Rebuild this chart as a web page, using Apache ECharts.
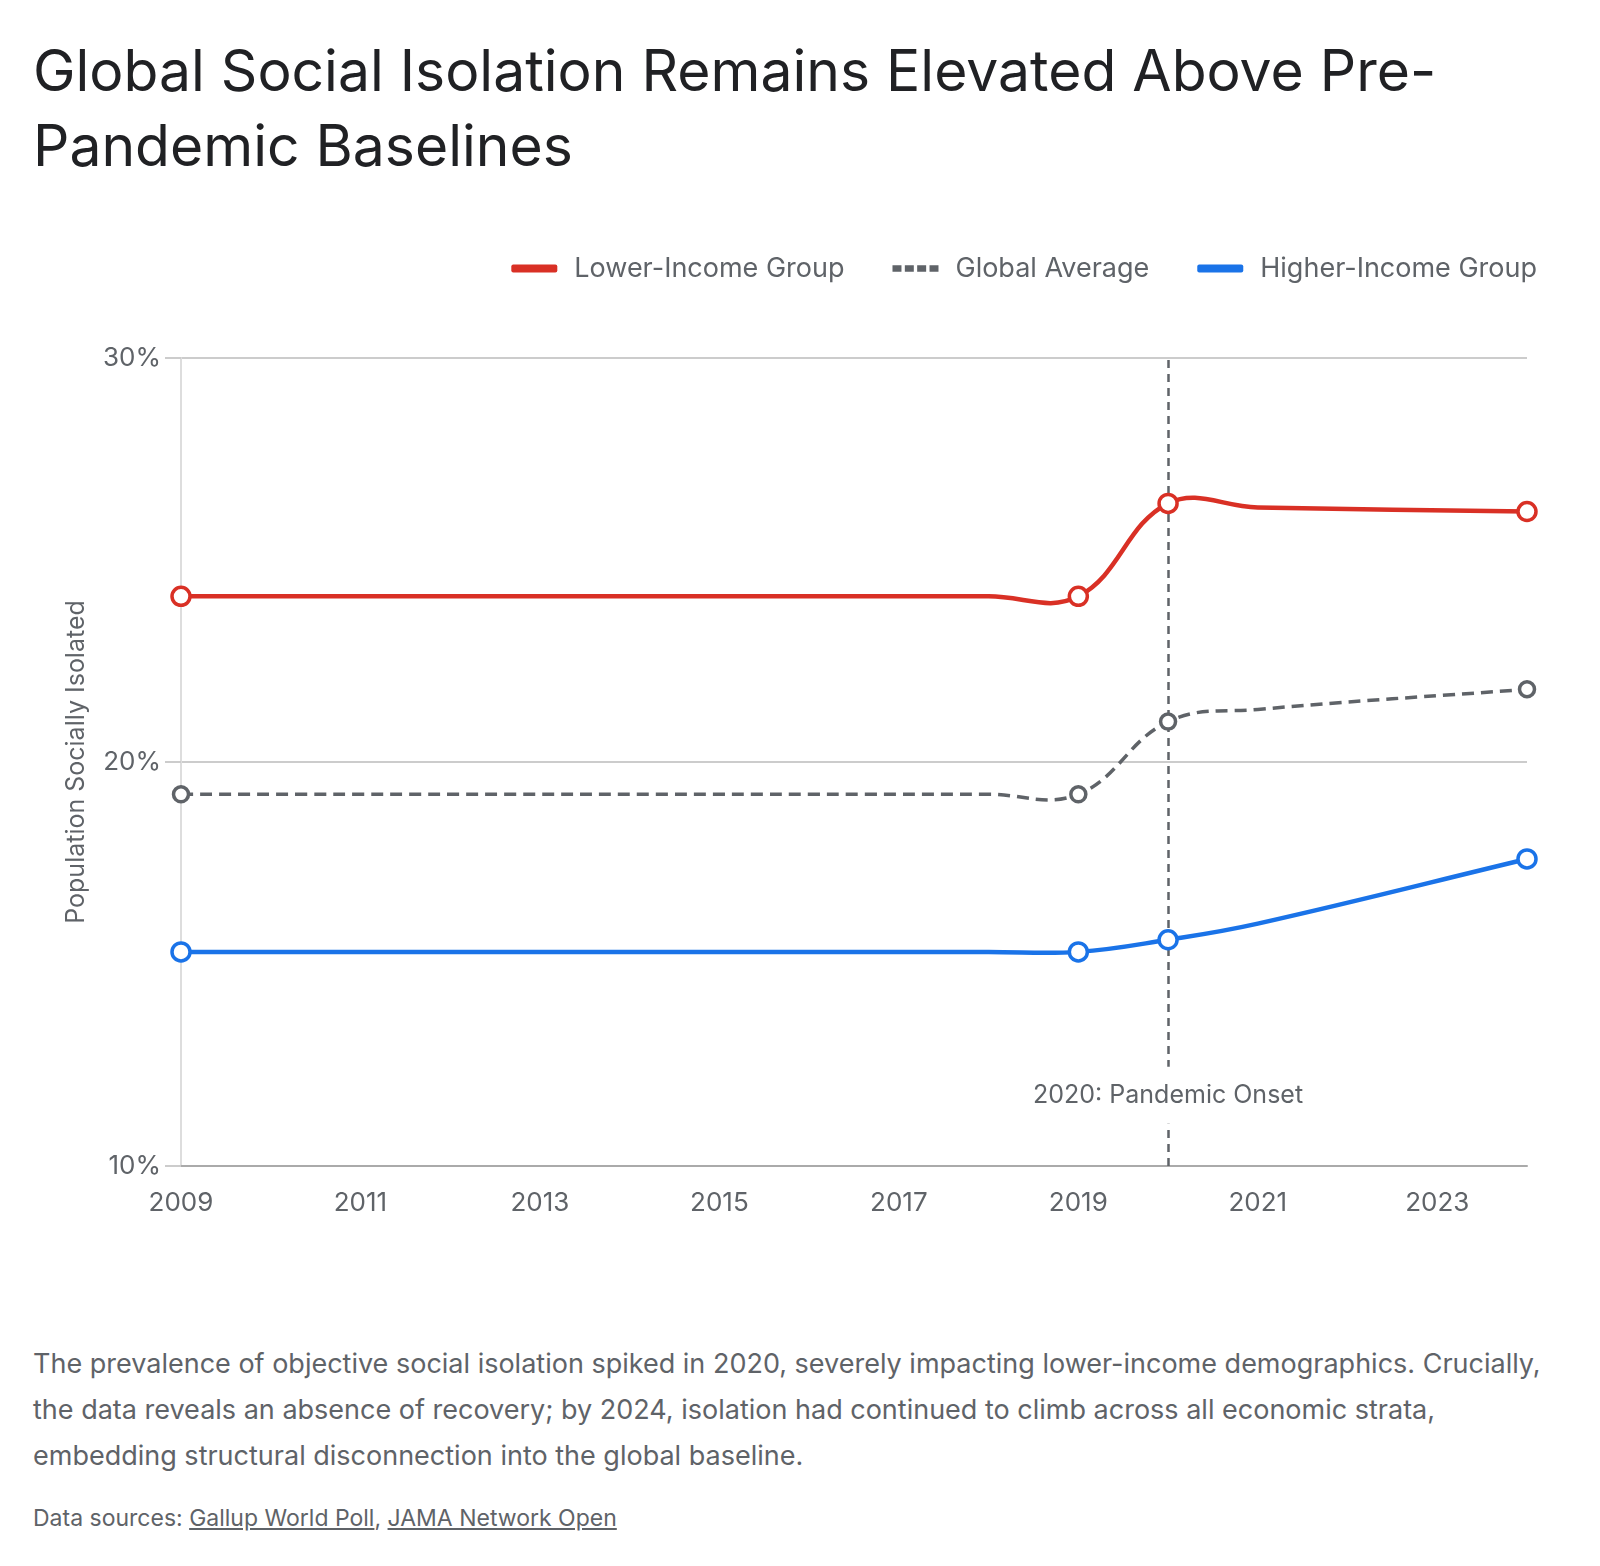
<!DOCTYPE html>
<html>
<head>
<meta charset="utf-8">
<title>Global Social Isolation</title>
<script src="https://cdn.jsdelivr.net/npm/echarts@6/dist/echarts.min.js"></script>
<style>
  html, body { margin: 0; padding: 0; background: #fff; }
  body { width: 1600px; height: 1566px; position: relative; font-family: Inter, Roboto, sans-serif; }
  #title {
    position: absolute; left: 33px; top: 33px;
    font-size: 57px; line-height: 75px; color: #202124; font-weight: 400;
    white-space: nowrap; margin: 0;
  }
  #chart { position: absolute; left: 0; top: 0; width: 1600px; height: 1300px; }
  #desc {
    position: absolute; left: 33px; top: 1341px;
    font-size: 27px; line-height: 46px; color: #5f6368; white-space: nowrap; margin: 0;
  }
  #sources {
    position: absolute; left: 33px; top: 1503px;
    font-size: 23px; line-height: 30px; color: #5f6368; white-space: nowrap; margin: 0;
  }
  #sources a { color: #5f6368; text-decoration: underline; }
</style>
</head>
<body>
<h1 id="title">Global Social Isolation Remains Elevated Above Pre-<br>Pandemic Baselines</h1>
<div id="chart"></div>
<p id="desc">The prevalence of objective social isolation spiked in 2020, severely impacting lower-income demographics. Crucially,<br>the data reveals an absence of recovery; by 2024, isolation had continued to climb across all economic strata,<br>embedding structural disconnection into the global baseline.</p>
<p id="sources">Data sources: <a href="#">Gallup World Poll</a>, <a href="#">JAMA Network Open</a></p>

<script>
// 数据：年份 + 三条曲线（百分比）
const years = [2009, 2018, 2019, 2020, 2021, 2024];
const lowerIncome = [24.1, 24.1, 24.1, 26.4, 26.3, 26.2];
const globalAverage = [19.2, 19.2, 19.2, 21.0, 21.3, 21.8];
const higherIncome = [15.3, 15.3, 15.3, 15.6, 16.0, 17.6];

// 只有这些年份画圆点
const markerYears = [2009, 2019, 2020, 2024];
// x 轴刻度
const xTickLabels = [2009, 2011, 2013, 2015, 2017, 2019, 2021, 2023];

// 疫情标注
const onsetYear = 2020;
const onsetLabel = '2020: Pandemic Onset';
const onsetLabelLevel = 11.75;

const TEXT = '#5f6368';
const RED = '#d93025';
const BLUE = '#1a73e8';
const FONT = 'Inter';
const TENSION = 0.4;

// 三次样条（不做极值约束，允许轻微的过冲，跟原图一致）
function splinePath(pts, t) {
    const n = pts.length;
    const cps = pts.map((p, i) => {
        const prev = pts[Math.max(i - 1, 0)];
        const next = pts[Math.min(i + 1, n - 1)];
        const d01 = Math.hypot(p[0] - prev[0], p[1] - prev[1]);
        const d12 = Math.hypot(next[0] - p[0], next[1] - p[1]);
        const sum = (d01 + d12) || 1;
        const fa = t * d01 / sum;
        const fb = t * d12 / sum;
        const vx = next[0] - prev[0];
        const vy = next[1] - prev[1];
        return { inX: p[0] - fa * vx, inY: p[1] - fa * vy, outX: p[0] + fb * vx, outY: p[1] + fb * vy };
    });
    let d = 'M' + pts[0][0] + ' ' + pts[0][1];
    for (let i = 1; i < n; i++) {
        d += ' C' + cps[i - 1].outX + ' ' + cps[i - 1].outY + ' ' +
             cps[i].inX + ' ' + cps[i].inY + ' ' + pts[i][0] + ' ' + pts[i][1];
    }
    return d;
}

// 每条线用 custom series 画：坐标全部经 api.coord 换算
function curveSeries(name, values, color, lineWidth, lineDash, radius, z) {
    return {
        name: name,
        type: 'custom',
        coordinateSystem: 'cartesian2d',
        z: z,
        data: years.map((y, i) => [y, values[i]]),
        encode: { x: 0, y: 1 },
        itemStyle: { color: color },
        renderItem(params, api) {
            if (params.dataIndex !== 0) return null;
            const pts = years.map((y, i) => api.coord([y, values[i]]));
            const children = [{
                type: 'path',
                shape: { pathData: splinePath(pts, TENSION) },
                style: { fill: 'none', stroke: color, lineWidth: lineWidth, lineDash: lineDash }
            }];
            years.forEach((y, i) => {
                if (!markerYears.includes(y)) return;
                children.push({
                    type: 'circle',
                    shape: { cx: pts[i][0], cy: pts[i][1], r: radius },
                    style: { fill: '#fff', stroke: color, lineWidth: 3.5 }
                });
            });
            return { type: 'group', children: children };
        }
    };
}

const chart = echarts.init(document.getElementById('chart'));

const lowerSeries = curveSeries('Lower-Income Group', lowerIncome, RED, 4.5, null, 9, 4);
const avgSeries = curveSeries('Global Average', globalAverage, TEXT, 3.5, [12, 7], 7.5, 3);
const higherSeries = curveSeries('Higher-Income Group', higherIncome, BLUE, 4.5, null, 9, 4);

// 2020 竖线 + 文字
higherSeries.markLine = {
    silent: true,
    z: 1,
    symbol: ['none', 'none'],
    label: { show: false },
    lineStyle: { color: TEXT, width: 2.5, type: [8, 6] },
    data: [{ xAxis: onsetYear }]
};
higherSeries.markPoint = {
    silent: true,
    z: 10,
    symbol: 'circle',
    symbolSize: 0,
    label: {
        show: true,
        position: 'inside',
        formatter: onsetLabel,
        color: TEXT,
        fontSize: 25,
        fontFamily: FONT,
        backgroundColor: '#fff',
        padding: [16, 6]
    },
    data: [{ coord: [onsetYear, onsetLabelLevel] }]
};

const option = {
    animation: false,
    textStyle: { fontFamily: FONT },
    legend: {
        top: 250,
        right: 58,
        itemWidth: 46,
        itemHeight: 8,
        itemGap: 48,
        textStyle: { color: TEXT, fontSize: 27, fontFamily: FONT, padding: [0, 0, 0, 12] },
        data: [
            { name: 'Lower-Income Group', icon: 'roundRect', itemStyle: { color: RED, borderWidth: 0 } },
            {
                name: 'Global Average',
                icon: 'path://M0 0h8v6h-8z M11 0h8v6h-8z M22 0h8v6h-8z M33 0h8v6h-8z',
                itemStyle: { color: TEXT, borderWidth: 0 }
            },
            { name: 'Higher-Income Group', icon: 'roundRect', itemStyle: { color: BLUE, borderWidth: 0 } }
        ]
    },
    grid: { left: 181, right: 73, top: 358, height: 808 },
    xAxis: {
        type: 'value',
        min: 2009,
        max: 2024,
        axisLine: { show: true, lineStyle: { color: '#aaaaaa', width: 2 } },
        axisTick: { show: false },
        splitLine: { show: false },
        axisLabel: {
            customValues: xTickLabels,
            color: TEXT, fontSize: 26, fontFamily: FONT, margin: 24,
            formatter: v => String(v)
        }
    },
    yAxis: {
        type: 'value',
        min: 10,
        max: 30,
        interval: 10,
        name: 'Population Socially Isolated',
        nameLocation: 'middle',
        nameRotate: 90,
        nameGap: 92,
        nameTextStyle: { color: TEXT, fontSize: 25, fontFamily: FONT },
        axisLine: { show: true, lineStyle: { color: '#dddddd', width: 2 } },
        axisTick: { show: true, length: 16, lineStyle: { color: '#cccccc', width: 2 } },
        splitLine: { lineStyle: { color: '#cccccc', width: 2 } },
        axisLabel: { color: TEXT, fontSize: 26, fontFamily: FONT, margin: 20, formatter: '{value}%' }
    },
    series: [lowerSeries, avgSeries, higherSeries]
};

chart.setOption(option);
</script>
</body>
</html>
